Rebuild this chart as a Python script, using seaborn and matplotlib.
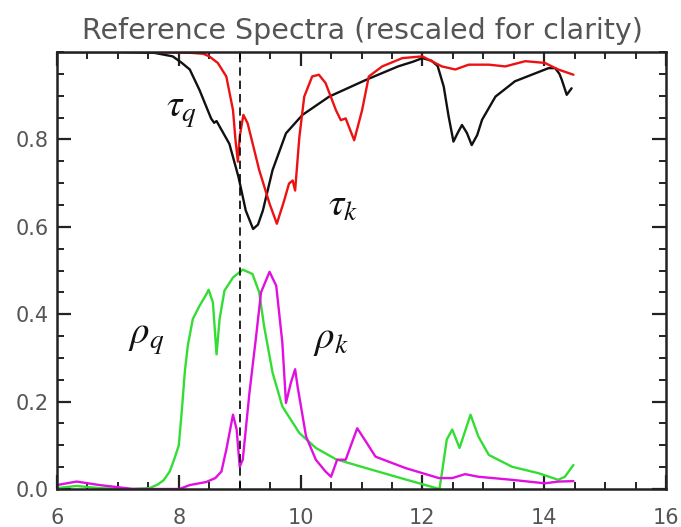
import matplotlib
matplotlib.use("Agg")
import matplotlib.pyplot as plt
from matplotlib.ticker import MultipleLocator
import seaborn as sns
import numpy as np

# ---------------- data ----------------
tau_q_x = [6.0, 7.0, 7.6, 7.9, 8.05, 8.18, 8.34, 8.53, 8.58, 8.62, 8.66, 8.83, 8.98, 9.10,
           9.22, 9.30, 9.38, 9.54, 9.76, 10.03, 10.47, 11.07, 11.6, 11.85, 12.0, 12.15, 12.25,
           12.35, 12.43, 12.51, 12.58, 12.65, 12.73, 12.81, 12.9, 12.98, 13.2, 13.52, 14.07,
           14.18, 14.25, 14.29, 14.37, 14.45]
tau_q_y = [1.0, 1.0, 0.998, 0.99, 0.975, 0.96, 0.913, 0.848, 0.838, 0.842, 0.832, 0.79, 0.714,
           0.637, 0.595, 0.605, 0.637, 0.73, 0.814, 0.856, 0.898, 0.936, 0.967, 0.978, 0.986,
           0.98, 0.968, 0.921, 0.853, 0.795, 0.815, 0.833, 0.815, 0.787, 0.81, 0.845, 0.898,
           0.933, 0.963, 0.963, 0.95, 0.936, 0.902, 0.917]

tau_k_x = [6.0, 7.5, 8.2, 8.4, 8.5, 8.64, 8.78, 8.89, 8.93, 8.97, 9.0, 9.06, 9.13, 9.32, 9.49,
           9.61, 9.73, 9.81, 9.87, 9.91, 9.98, 10.06, 10.19, 10.30, 10.41, 10.58, 10.66, 10.74,
           10.88, 11.01, 11.12, 11.34, 11.67, 12.0, 12.32, 12.54, 12.76, 13.09, 13.36, 13.69,
           14.01, 14.23, 14.48]
tau_k_y = [1.0, 1.0, 0.998, 0.996, 0.99, 0.975, 0.944, 0.867, 0.80, 0.749, 0.806, 0.856, 0.837,
           0.73, 0.653, 0.607, 0.66, 0.699, 0.706, 0.683, 0.806, 0.898, 0.944, 0.948, 0.929,
           0.867, 0.844, 0.848, 0.798, 0.867, 0.944, 0.967, 0.986, 0.99, 0.967, 0.96, 0.971,
           0.971, 0.967, 0.979, 0.975, 0.96, 0.948]

rho_q_x = [6.0, 6.32, 6.7, 7.2, 7.52, 7.65, 7.75, 7.85, 7.93, 8.0, 8.05, 8.1, 8.15, 8.23, 8.34,
           8.45, 8.49, 8.56, 8.62, 8.67, 8.75, 8.89, 9.05, 9.21, 9.32, 9.40, 9.54, 9.70, 9.98,
           10.25, 10.58, 11.12, 11.72, 12.28, 12.32, 12.40, 12.49, 12.61, 12.79, 12.92, 13.09,
           13.47, 13.91, 14.23, 14.34, 14.48]
rho_q_y = [0.002, 0.007, 0.002, 0.0, 0.002, 0.01, 0.02, 0.04, 0.07, 0.1, 0.18, 0.27, 0.33,
           0.389, 0.419, 0.445, 0.456, 0.427, 0.308, 0.389, 0.454, 0.484, 0.502, 0.492, 0.45,
           0.373, 0.266, 0.189, 0.128, 0.094, 0.068, 0.046, 0.022, 0.0, 0.036, 0.113, 0.136,
           0.094, 0.17, 0.12, 0.078, 0.051, 0.036, 0.021, 0.028, 0.055]

rho_k_x = [6.0, 6.32, 6.7, 7.25, 7.6, 8.01, 8.18, 8.45, 8.6, 8.7, 8.78, 8.89, 8.95, 9.0, 9.05,
           9.16, 9.27, 9.35, 9.49, 9.60, 9.70, 9.76, 9.84, 9.91, 9.95, 10.09, 10.25, 10.41,
           10.50, 10.60, 10.74, 10.93, 11.07, 11.23, 11.72, 12.27, 12.49, 12.70, 12.92, 13.47,
           14.01, 14.23, 14.48]
rho_k_y = [0.009, 0.017, 0.009, 0.0, 0.0, 0.0, 0.009, 0.016, 0.025, 0.04, 0.09, 0.17, 0.136,
           0.051, 0.067, 0.22, 0.35, 0.45, 0.497, 0.465, 0.335, 0.197, 0.243, 0.274, 0.235,
           0.12, 0.067, 0.04, 0.028, 0.067, 0.067, 0.139, 0.109, 0.074, 0.048, 0.025, 0.025,
           0.034, 0.028, 0.021, 0.013, 0.017, 0.018]

ref_x = 9.0
x_ticks = [6, 8, 10, 12, 14, 16]
y_ticks = [0.0, 0.2, 0.4, 0.6, 0.8]
title = "Reference Spectra (rescaled for clarity)"

# ---------------- plot ----------------
sns.set_style("ticks")
plt.rcParams["mathtext.fontset"] = "stix"
plt.rcParams["font.family"] = ["DejaVu Sans"]

fig = plt.figure(figsize=(6.81, 5.27), dpi=100)
ax = fig.add_axes([57 / 681, 38 / 527, 609 / 681, 437 / 527])

lw = 1.7
sns.lineplot(x=tau_q_x, y=tau_q_y, color="#111111", linewidth=lw, ax=ax, sort=False)
sns.lineplot(x=tau_k_x, y=tau_k_y, color="#ee1111", linewidth=lw, ax=ax, sort=False)
sns.lineplot(x=rho_q_x, y=rho_q_y, color="#33dd33", linewidth=lw, ax=ax, sort=False)
sns.lineplot(x=rho_k_x, y=rho_k_y, color="#e010e0", linewidth=lw, ax=ax, sort=False)

ax.axvline(ref_x, color="black", linestyle=(0, (5, 3)), linewidth=1.2)

ax.set_xlim(6, 16)
ax.set_ylim(0, 1.0)
ax.set_xticks(x_ticks)
ax.set_yticks(y_ticks)
ax.set_xticklabels([str(v) for v in x_ticks])
ax.set_yticklabels([f"{v:.1f}" for v in y_ticks])
ax.xaxis.set_minor_locator(MultipleLocator(0.5))
ax.yaxis.set_minor_locator(MultipleLocator(0.05))
ax.tick_params(which="major", direction="in", top=True, right=True, length=10, width=1.6,
               labelsize=15, labelcolor="#555555", color="#222222")
ax.tick_params(which="minor", direction="in", top=True, right=True, length=5, width=1.4,
               color="#222222")
ax.tick_params(axis="x", which="major", pad=14)
ax.tick_params(axis="y", which="major", pad=6)
for s in ax.spines.values():
    s.set_linewidth(1.8)
    s.set_color("#222222")

ax.set_xlabel("")
ax.set_ylabel("")

fig.text(362 / 681, 1 - 31 / 527, title, ha="center", va="center", fontsize=20.5,
         color="#555555")

lab_kw = dict(fontsize=28, color="#111111", ha="center", va="center")
ax.text(8.05, 0.865, r"$\tau_q$", **lab_kw)
ax.text(10.7, 0.65, r"$\tau_k$", **lab_kw)
ax.text(7.46, 0.345, r"$\rho_q$", **lab_kw)
ax.text(10.5, 0.343, r"$\rho_k$", **lab_kw)

fig.savefig("out.png", dpi=100)
